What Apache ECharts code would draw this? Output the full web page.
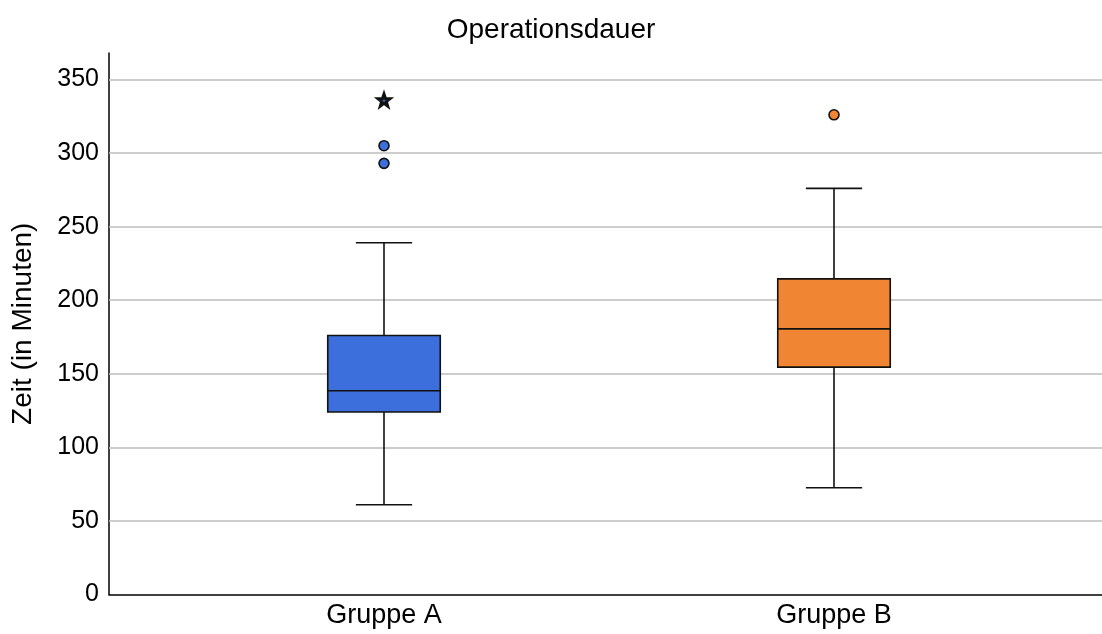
<!DOCTYPE html>
<html>
<head>
<meta charset="utf-8">
<title>Operationsdauer</title>
<script src="https://cdn.jsdelivr.net/npm/echarts@6/dist/echarts.min.js"></script>
<style>
  html, body { margin: 0; padding: 0; background: #fff; }
  #chart { width: 1102px; height: 634px; }
</style>
</head>
<body>
<div id="chart"></div>
<script>
// Groups and their five-number summaries (minutes)
const groups = ['Gruppe A', 'Gruppe B'];
const whiskerLow = [61, 72.5];
const quartile1 = [124, 154.5];
const medians = [138.5, 180.5];
const quartile3 = [176, 214.5];
const whiskerHigh = [239, 276];
const boxColors = ['#3D6FDC', '#F08533'];

// Outliers: [group index, value]
const outliers = [[0, 293], [0, 305], [1, 326]];
// Extreme values: [group index, value]
const extremes = [[0, 336]];

// Value axis
const yMin = 0;
const yMax = 368;
const yStep = 50;
const gridValues = [50, 100, 150, 200, 250, 300, 350];

const font = 'Liberation Sans, Arial, sans-serif';
const chart = echarts.init(document.getElementById('chart'), null, { renderer: 'canvas' });

const boxData = groups.map((g, i) => [i, whiskerLow[i], quartile1[i], medians[i], quartile3[i], whiskerHigh[i]]);

function renderBox(params, api) {
  const x = api.value(0);
  const lo = api.coord([x, api.value(1)]);
  const q1 = api.coord([x, api.value(2)]);
  const md = api.coord([x, api.value(3)]);
  const q3 = api.coord([x, api.value(4)]);
  const hi = api.coord([x, api.value(5)]);
  const band = api.size([1, 0])[0];
  const bw = band * 0.25;
  const cw = bw / 2;
  const cx = md[0];
  const line = { stroke: '#111', lineWidth: 1.6 };
  return {
    type: 'group',
    children: [
      { type: 'line', shape: { x1: cx, y1: hi[1], x2: cx, y2: q3[1] }, style: line },
      { type: 'line', shape: { x1: cx, y1: q1[1], x2: cx, y2: lo[1] }, style: line },
      { type: 'line', shape: { x1: cx - cw / 2, y1: hi[1], x2: cx + cw / 2, y2: hi[1] }, style: line },
      { type: 'line', shape: { x1: cx - cw / 2, y1: lo[1], x2: cx + cw / 2, y2: lo[1] }, style: line },
      { type: 'rect', shape: { x: cx - bw / 2, y: q3[1], width: bw, height: q1[1] - q3[1] },
        style: { fill: boxColors[params.dataIndex], stroke: '#111', lineWidth: 1.6 } },
      { type: 'line', shape: { x1: cx - bw / 2, y1: md[1], x2: cx + bw / 2, y2: md[1] }, style: line }
    ]
  };
}

const starPath = 'path://M0,-10L2.35,-3.24L9.51,-3.09L3.8,1.24L5.88,8.09L0,4L-5.88,8.09L-3.8,1.24L-9.51,-3.09L-2.35,-3.24Z';

const option = {
  animation: false,
  backgroundColor: '#ffffff',
  title: {
    text: 'Operationsdauer',
    left: 'center',
    top: 11,
    textStyle: { fontFamily: font, fontSize: 28, fontWeight: 'normal', color: '#000' }
  },
  grid: [
    { left: 109, right: 0, top: 53, bottom: 39.5 },
    { left: 159, width: 900, top: 53, bottom: 39.5 }
  ],
  xAxis: [
    {
      gridIndex: 0, type: 'value', min: 0, max: 1,
      axisLine: { show: true, lineStyle: { color: '#000', width: 1.5 } },
      axisTick: { show: false }, axisLabel: { show: false }, splitLine: { show: false }
    },
    {
      gridIndex: 1, type: 'category', data: groups,
      axisLine: { show: false }, axisTick: { show: false }, splitLine: { show: false },
      axisLabel: { margin: 8, fontFamily: font, fontSize: 27, color: '#000' }
    }
  ],
  yAxis: [
    {
      gridIndex: 0, type: 'value', min: yMin, max: yMax, interval: yStep,
      name: 'Zeit (in Minuten)', nameLocation: 'middle', nameGap: 72,
      nameTextStyle: { fontFamily: font, fontSize: 28, color: '#000' },
      axisLine: { show: true, lineStyle: { color: '#000', width: 1.5 } },
      axisTick: { show: false },
      splitLine: { show: false },
      axisLabel: {
        margin: 10, fontFamily: font, fontSize: 25, color: '#000', showMaxLabel: false,
        verticalAlign: 'middle', padding: [6, 0, 0, 0],
        formatter: v => (v % yStep === 0 ? String(v) : '')
      }
    },
    {
      gridIndex: 1, type: 'value', min: yMin, max: yMax, interval: yStep,
      axisLine: { show: false }, axisTick: { show: false },
      axisLabel: { show: false }, splitLine: { show: false }
    }
  ],
  series: [
    {
      type: 'line', xAxisIndex: 0, yAxisIndex: 0, data: [],
      markLine: {
        silent: true, symbol: 'none', label: { show: false },
        lineStyle: { color: '#bdbdbd', type: 'solid', width: 1.5 },
        data: gridValues.map(v => ({ yAxis: v }))
      },
      z: 1
    },
    {
      type: 'custom', xAxisIndex: 1, yAxisIndex: 1,
      renderItem: renderBox, data: boxData, z: 5
    },
    {
      type: 'scatter', xAxisIndex: 1, yAxisIndex: 1,
      data: outliers, symbol: 'circle', symbolSize: 10,
      itemStyle: {
        opacity: 1,
        color: p => boxColors[p.value[0]],
        borderColor: '#111', borderWidth: 1.6
      },
      z: 6
    },
    {
      type: 'scatter', xAxisIndex: 1, yAxisIndex: 1,
      data: extremes, symbol: starPath, symbolSize: 12,
      itemStyle: {
        opacity: 1,
        color: p => boxColors[p.value[0]],
        borderColor: '#111', borderWidth: 3
      },
      z: 6
    }
  ]
};

chart.setOption(option);
</script>
</body>
</html>
